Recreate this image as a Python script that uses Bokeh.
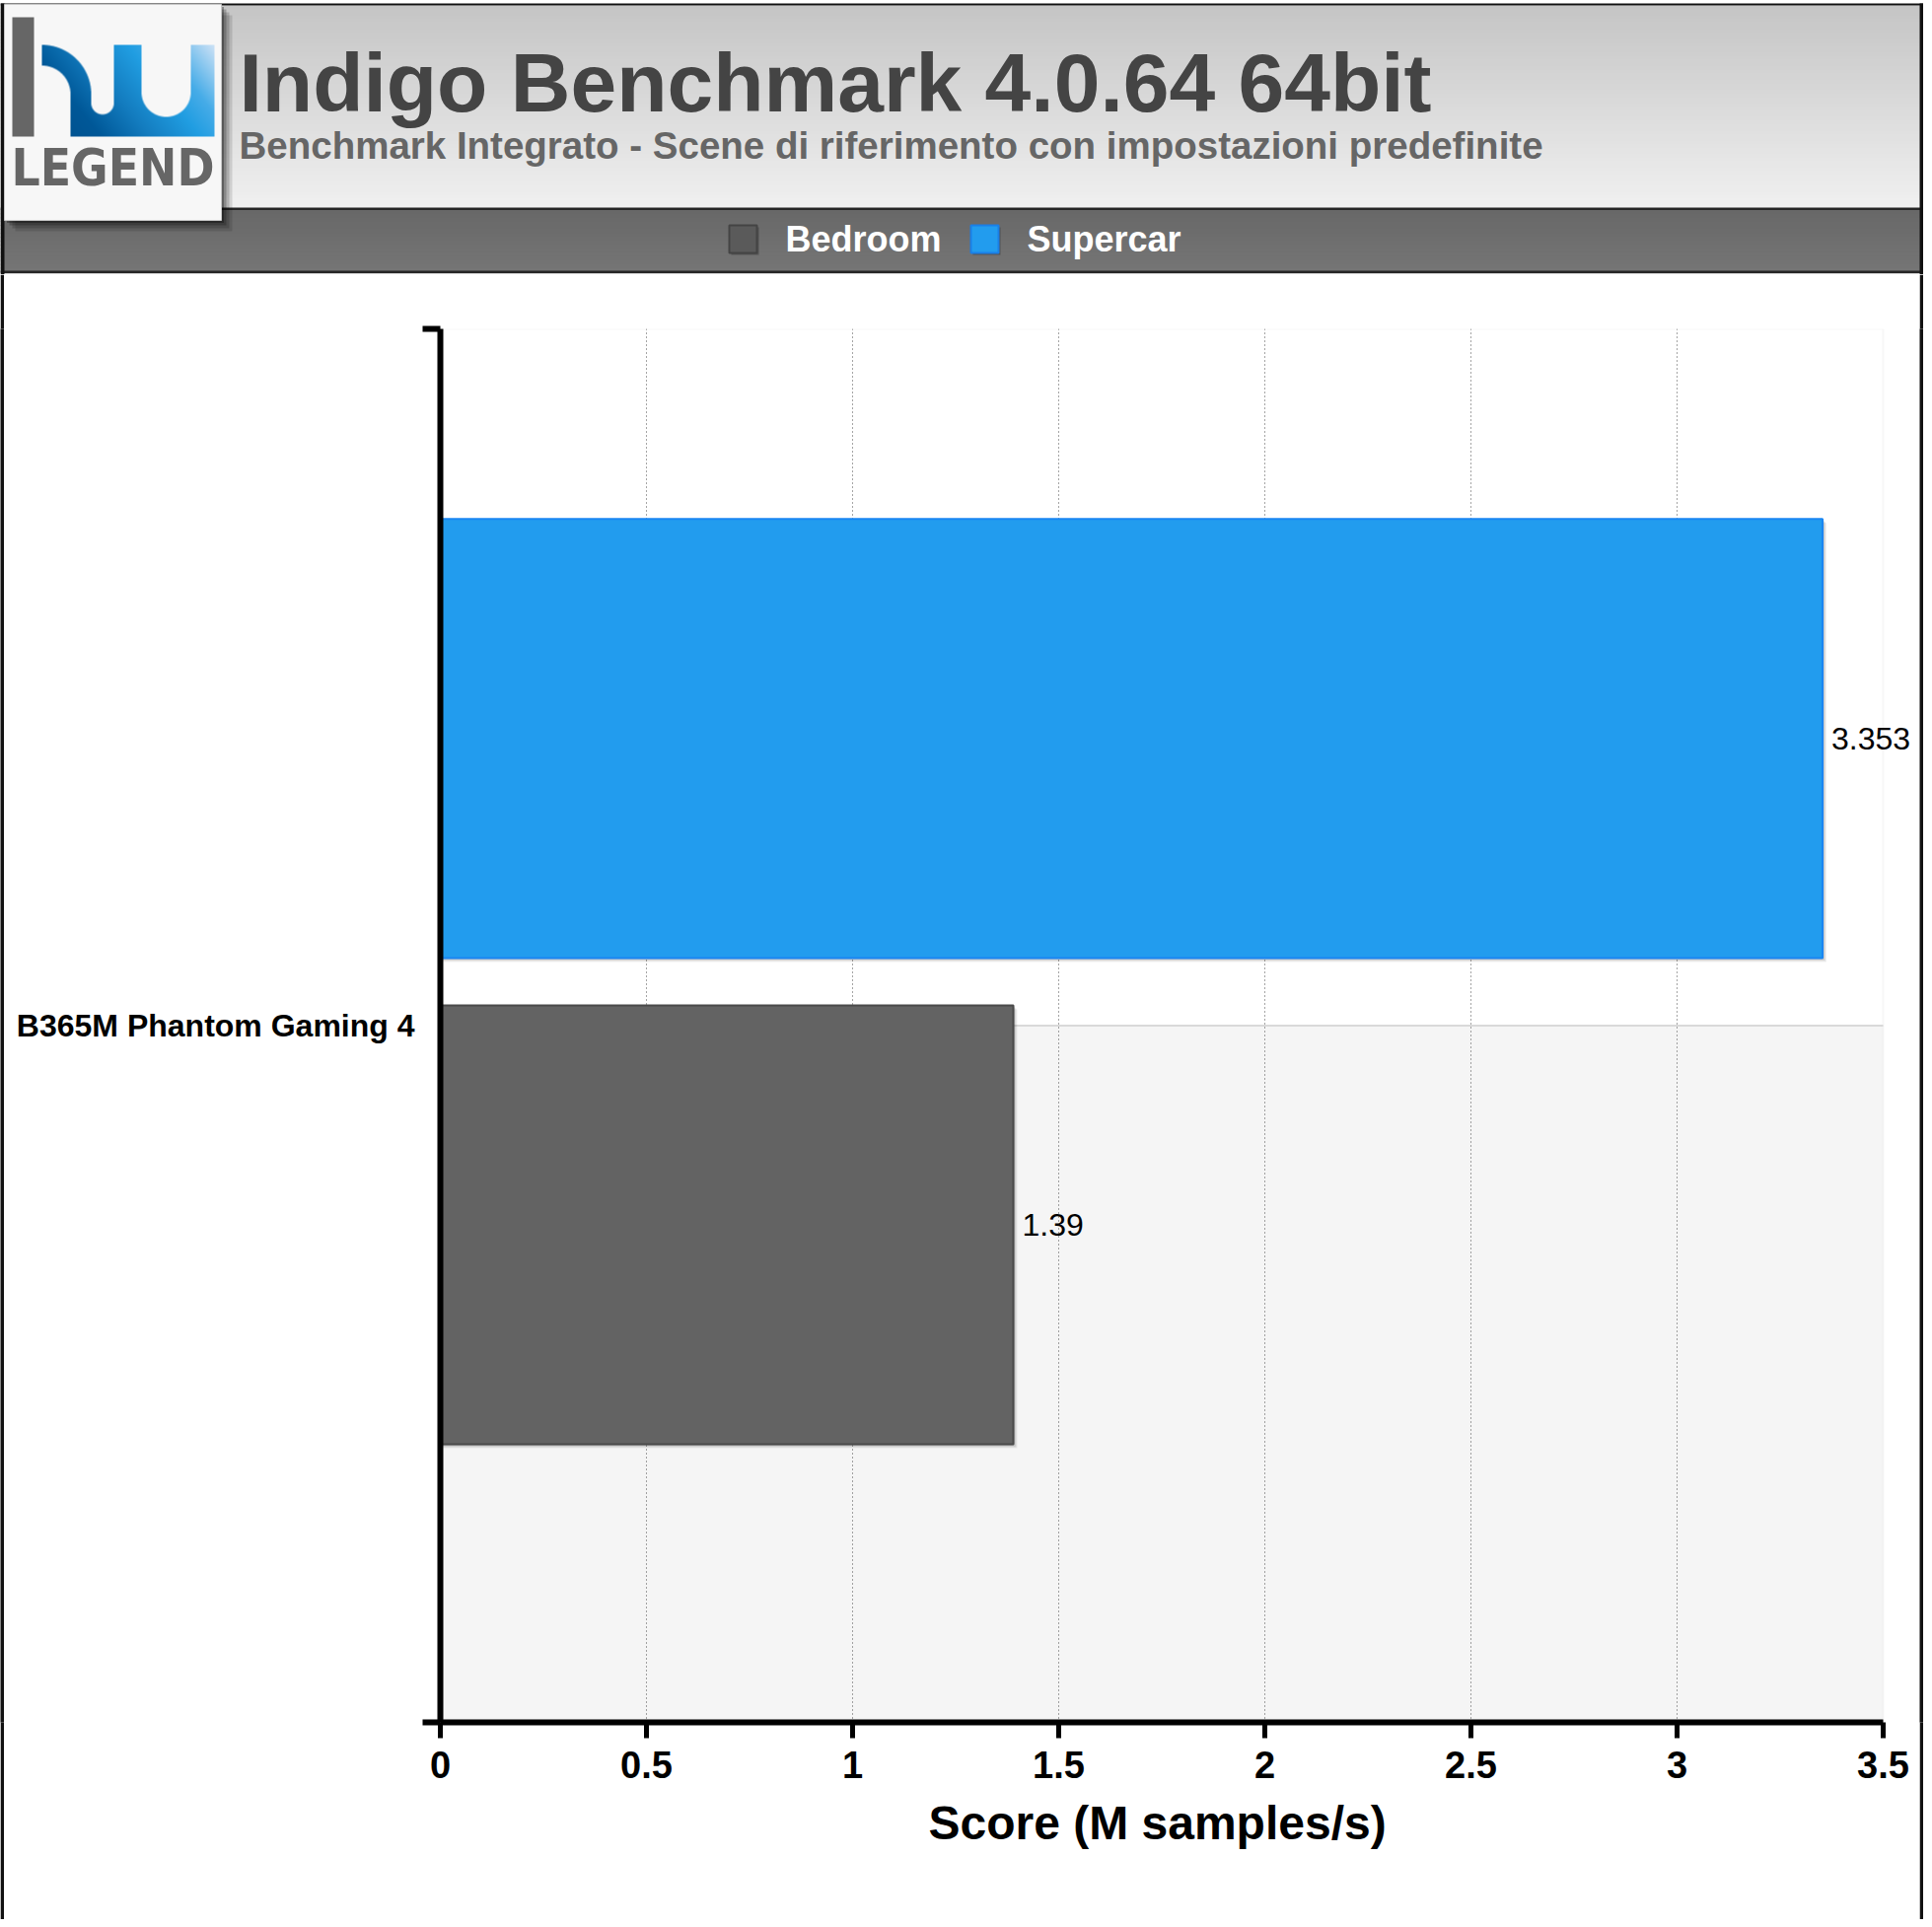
import numpy as np
from bokeh.plotting import figure
from bokeh.models import (ColumnDataSource, Range1d, FixedTicker, LinearAxis,
                          NumeralTickFormatter, BoxAnnotation, LabelSet, Title)
from bokeh.layouts import column, row
from bokeh.transform import dodge
from bokeh.core.properties import value
from bokeh.embed import file_html
from bokeh.resources import INLINE

# ---------------- data ----------------
title = "Indigo Benchmark 4.0.64 64bit"
subtitle = "Benchmark Integrato - Scene di riferimento con impostazioni predefinite"
categories = ["B365M Phantom Gaming 4"]
series_names = ["Bedroom", "Supercar"]
bedroom = [1.39]
supercar = [3.353]
x_ticks = [0, 0.5, 1, 1.5, 2, 2.5, 3, 3.5]
x_label = "Score (M samples/s)"
logo_word = "LEGEND"

# ---------------- styles ----------------
FONT_S = "Liberation Sans"
FONT = value(FONT_S)
NARROW = value("'DejaVu Sans Condensed', 'Liberation Sans'")
series_fill = ["#636363", "#229cee"]
series_line = ["#4a4a4a", "#1a86f2"]
BAR_H = 0.315
OFFS = {"Supercar": 0.206, "Bedroom": -0.143}
BASE_FIX = 0.36   # shift so that the glyph baseline lands on the requested y


def canvas_fig(w, h, fill="white"):
    f = figure(width=w, height=h, x_range=Range1d(0, w), y_range=Range1d(0, h), title=None,
               output_backend="svg", toolbar_location=None, min_border=0,
               x_axis_location=None, y_axis_location=None, outline_line_color=None,
               background_fill_color=fill, border_fill_color=fill)
    f.grid.visible = False
    return f


# ================= header =================
HW, HH = 1950, 278
hdr = canvas_fig(HW, HH)


def Y(cy):
    return HH - cy


def text_at(x, baseline, size, **kw):
    return hdr.text(x=x, y=[Y(baseline - BASE_FIX * size)] * len(x), text_font_size=f"{size}px",
                    text_baseline="alphabetic", **kw)


# gradient title band
n = 60
edges = np.linspace(5, 211, n + 1)
mid = (edges[:-1] + edges[1:]) / 2
g = np.interp(mid, [5, 211], [197, 241]).astype(int)
hdr.quad(left=0, right=1950, top=[Y(e) for e in edges[:-1]], bottom=[Y(e + 0.8) for e in edges[1:]],
         fill_color=["#%02x%02x%02x" % (v, v, v) for v in g], line_color=None)
# legend band
n2 = 16
edges2 = np.linspace(212, 275, n2 + 1)
mid2 = (edges2[:-1] + edges2[1:]) / 2
g2 = np.interp(mid2, [212, 275], [104, 118]).astype(int)
hdr.quad(left=0, right=1950, top=[Y(e) for e in edges2[:-1]], bottom=[Y(e + 0.8) for e in edges2[1:]],
         fill_color=["#%02x%02x%02x" % (v, v, v) for v in g2], line_color=None)
# separator lines
hdr.quad(left=0, right=1950, top=[Y(210), Y(274)], bottom=[Y(212.5), Y(276.5)],
         fill_color="#262626", line_color=None)
hdr.quad(left=4, right=1946, top=Y(276.5), bottom=Y(278), fill_color="#d4d4d4", line_color=None)
# outer border
hdr.quad(left=[0, 1946, 0], right=[4, 1950, 1950], top=[Y(3), Y(3), Y(3)],
         bottom=[Y(HH), Y(HH), Y(5)], fill_color="#111111", line_color=None)

# logo shadow + box
for off, a in [(11, 0.12), (8, 0.16), (5, 0.22), (2.5, 0.3)]:
    hdr.quad(left=4 + off, right=224 + off, top=Y(4 + off), bottom=Y(223 + off),
             fill_color="black", fill_alpha=a, line_color=None)
hdr.quad(left=4, right=224, top=Y(4), bottom=Y(223), fill_color="#f7f7f7",
         line_color="#c8c8c8", line_width=1)
# gray stem of logo
hdr.quad(left=12, right=34, top=Y(17), bottom=Y(138), fill_color="#666666", line_color=None)

# blue logo raster (supersampled shapes with a diagonal gradient)
px0, px1, py0, py1 = 38, 222, 42, 141
nx, ny = px1 - px0, py1 - py0
ss = 4
xs = px0 + (np.arange(nx * ss) + 0.5) / ss
ys = py0 + (np.arange(ny * ss) + 0.5) / ss
XX, YY = np.meshgrid(xs, ys)
rr = np.hypot(XX - 42, YY - 95)
arch = (XX >= 42) & (YY <= 95) & (rr >= 29) & (rr <= 50)
hstroke = (XX >= 71) & (XX <= 92) & (YY >= 95) & (YY <= 138)
u1_out = (XX >= 92) & (XX <= 143) & (YY >= 45) & (YY <= 138)
u1_in = (((XX >= 92) & (XX <= 115) & (YY <= 104)) | (np.hypot(XX - 103.5, YY - 104) <= 11.5))
u2_out = (XX >= 143) & (XX <= 217) & (YY >= 45) & (YY <= 138)
u2_in = (((XX >= 143) & (XX <= 193) & (YY <= 93)) | (np.hypot(XX - 168, YY - 93) <= 25))
mask = arch | hstroke | (u1_out & ~u1_in) | (u2_out & ~u2_in)
cov = mask.reshape(ny, ss, nx, ss).mean(axis=(1, 3))
cx = px0 + np.arange(nx) + 0.5
cy = py0 + np.arange(ny) + 0.5
CX, CY = np.meshgrid(cx, cy)
t = np.clip((CX - 40) / 177 * 0.7 + (140 - CY) / 95 * 0.3, 0, 1)
stops = [0.0, 0.25, 0.45, 0.65, 0.78, 1.0]
R = np.interp(t, stops, [0, 0, 20, 33, 70, 205])
G = np.interp(t, stops, [78, 88, 125, 158, 172, 226])
B = np.interp(t, stops, [138, 152, 192, 226, 232, 246])
img = np.zeros((ny, nx), dtype=np.uint32)
view = img.view(dtype=np.uint8).reshape((ny, nx, 4))
view[:, :, 0] = R.astype(np.uint8)
view[:, :, 1] = G.astype(np.uint8)
view[:, :, 2] = B.astype(np.uint8)
view[:, :, 3] = (cov * 255).astype(np.uint8)
img = np.flipud(img)
hdr.image_rgba(image=[img], x=px0, y=Y(py1), dw=nx, dh=ny)

text_at([11], 188, 51, text=[logo_word], text_font=NARROW, text_font_style="bold",
        text_color="#666666")

# titles
text_at([242], 114, 84, text=[title], text_font=FONT, text_font_style="bold", text_color="#444444")
text_at([242], 161, 38.5, text=[subtitle], text_font=FONT, text_font_style="bold", text_color="#666666")

# legend
leg_sq_x = [739, 984]
leg_tx_x = [796, 1041]
hdr.quad(left=[v + 2 for v in leg_sq_x], right=[v + 30 for v in leg_sq_x],
         top=Y(230), bottom=Y(258), fill_color="black", fill_alpha=0.25, line_color=None)
hdr.quad(left=leg_sq_x, right=[v + 28 for v in leg_sq_x], top=Y(228), bottom=Y(256),
         fill_color=["#5a5a5a", series_fill[1]], line_color=["#444444", "#1a7fe6"], line_width=2)
text_at(leg_tx_x, 255, 36, text=series_names, text_font=FONT, text_font_style="bold",
        text_color="white")

# ================= main plot =================
ncat = len(categories)
cat_pos = [i + 0.5 for i in range(ncat)]          # category centres on a numeric scale
cat_edges = [float(i) for i in range(ncat + 1)]    # category boundaries

MW, MH = 1942, 1668
BL = 442                     # left border (frame starts at page x 446)
x_end = x_ticks[-1] * (MW - BL) / 1463.0   # frame runs to right border; 3.5 sits at page x 1909
p = figure(width=MW, height=MH, y_range=Range1d(0, ncat), x_range=Range1d(0, x_end), title=None,
           output_backend="svg", toolbar_location=None,
           min_border_left=BL, min_border_right=0, min_border_top=55, min_border_bottom=200,
           x_axis_location="below", y_axis_location=None,
           background_fill_color="white", border_fill_color="white", outline_line_color=None)

# alternate band (lower half shaded), separator, plot-area border
for c in cat_pos:
    p.add_layout(BoxAnnotation(top=c, bottom=c - 0.5, left=x_ticks[0], right=x_ticks[-1],
                               fill_color="#f5f5f5", fill_alpha=1, line_color=None, level="image"))
    p.segment(x0=[x_ticks[0]], x1=[x_ticks[-1]], y0=[c], y1=[c], line_color="#d9d9d9", line_width=2)
p.add_layout(BoxAnnotation(top=ncat, bottom=0, left=x_ticks[0], right=x_ticks[-1],
                           fill_color=None, line_color="#e4e4e4", line_width=2, level="underlay"))

p.ygrid.visible = False
xg = p.xgrid[0]
xg.ticker = FixedTicker(ticks=x_ticks[1:-1])
xg.grid_line_color = "#4a4a4a"
xg.grid_line_dash = "1 3"
xg.grid_line_width = 1

src = ColumnDataSource(dict(pos=cat_pos, bedroom=bedroom, supercar=supercar,
                            bedroom_txt=[f"{v:g}" for v in bedroom],
                            supercar_txt=[f"{v:g}" for v in supercar]))

# shadows
for name, fld in [("Supercar", "supercar"), ("Bedroom", "bedroom")]:
    for k, a in [(4, 0.06), (3, 0.07), (2, 0.08), (1, 0.09)]:
        p.hbar(y=dodge("pos", OFFS[name] - k / 1413), left=0,
               right=dodge(fld, k / 418), height=BAR_H, source=src,
               fill_color="black", fill_alpha=a, line_color=None)

p.hbar(y=dodge("pos", OFFS["Supercar"]), left=0, right="supercar",
       height=BAR_H, source=src, fill_color=series_fill[1], line_color=series_line[1], line_width=2)
p.hbar(y=dodge("pos", OFFS["Bedroom"]), left=0, right="bedroom",
       height=BAR_H, source=src, fill_color=series_fill[0], line_color=series_line[0], line_width=2)

for name, fld in [("Supercar", "supercar"), ("Bedroom", "bedroom")]:
    p.add_layout(LabelSet(x=fld, y=dodge("pos", OFFS[name]), text=fld + "_txt",
                          source=src, x_offset=9, text_baseline="middle", text_font=FONT,
                          text_font_size="32px", text_color="black"))

# x axis
xa = p.xaxis[0]
xa.ticker = FixedTicker(ticks=x_ticks)
xa.bounds = (x_ticks[0], x_ticks[-1])
xa.formatter = NumeralTickFormatter(format="0.[0]")
xa.axis_line_width = 6
xa.axis_line_color = "black"
xa.major_tick_line_width = 5
xa.major_tick_line_color = "black"
xa.major_tick_out = 16
xa.major_tick_in = 0
xa.minor_tick_line_color = None
xa.major_label_text_font = FONT_S
xa.major_label_text_font_style = "bold"
xa.major_label_text_font_size = "38px"
xa.major_label_text_color = "black"
xa.major_label_standoff = 13

# axis title, centred under the 0..3.5 span (the frame itself runs wider to fit value labels)
p.add_layout(Title(text=x_label, align="left", offset=495, vertical_align="middle", standoff=30,
                   text_font=FONT_S, text_font_style="bold", text_font_size="48px",
                   text_color="black"), "below")

# y axis: category label at band centre, end ticks at band edges
ya = LinearAxis(ticker=FixedTicker(ticks=cat_pos, minor_ticks=cat_edges),
                major_label_overrides={c: name for c, name in zip(cat_pos, categories)},
                axis_line_width=6, axis_line_color="black",
                major_tick_line_color=None, major_tick_out=0, major_tick_in=0,
                minor_tick_out=18, minor_tick_in=0, minor_tick_line_width=6,
                minor_tick_line_color="black",
                major_label_text_font=FONT_S, major_label_text_font_style="bold",
                major_label_text_font_size="32px", major_label_text_color="black",
                major_label_standoff=8)
p.add_layout(ya, "left")

# outer border strips (whole canvas filled)
layout = column(hdr,
                row(canvas_fig(4, MH, "#111111"), p, canvas_fig(4, MH, "#111111")),
                canvas_fig(HW, 4, "#111111"))
open("out.html", "w").write(file_html(layout, INLINE))
